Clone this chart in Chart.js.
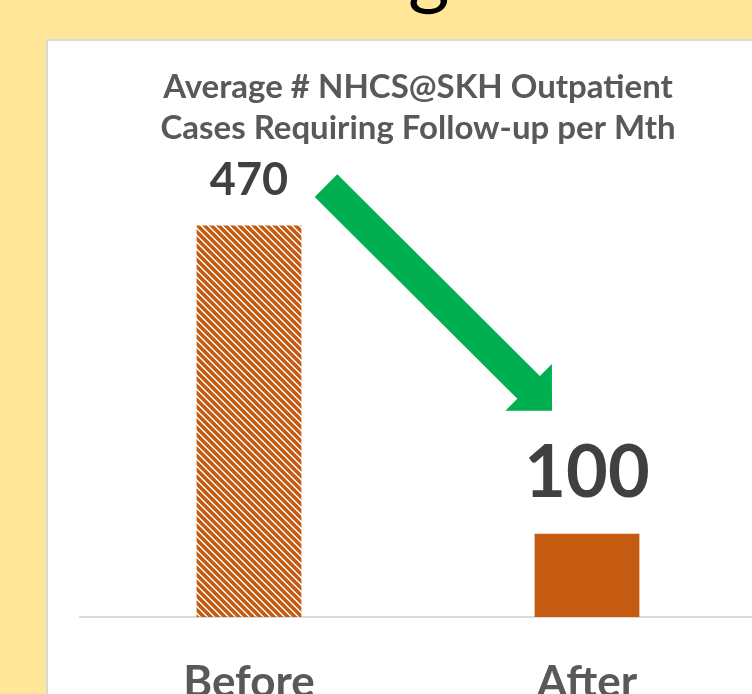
<!DOCTYPE html>
<html>
<head>
<meta charset="utf-8">
<script src="https://cdn.jsdelivr.net/npm/chart.js@4.4.1/dist/chart.umd.min.js"></script>
<style>
  html, body { margin: 0; padding: 0; width: 752px; height: 694px; overflow: hidden; background: #FFE699; }
  .panel { position: absolute; left: 46px; top: 39px; width: 800px; height: 800px; background: #fff; border: 2px solid #d9d9d9; }
  .slide-title { position: absolute; left: 408px; top: -72px; font: 80px/80px Lato, sans-serif; color: #000; }
  .wrap { position: absolute; left: 0; top: 0; width: 800px; height: 720px; }
</style>
</head>
<body>
<div class="slide-title">g</div>
<div class="panel"></div>
<div class="wrap"><canvas id="chart"></canvas></div>
<script>
const categories = ['Before', 'After']
const values     = [470, 100]
const titleLines = ['Average # NHCS@SKH Outpatient', 'Cases Requiring Follow-up per Mth']

function hatch(color) {
  const c = document.createElement('canvas')
  c.width = 7; c.height = 7
  const g = c.getContext('2d')
  g.strokeStyle = color
  g.lineWidth = 3.6
  g.beginPath()
  g.moveTo(-1, -1); g.lineTo(8, 8)
  g.moveTo(-1, 6);  g.lineTo(1, 8)
  g.moveTo(6, -1);  g.lineTo(8, 1)
  g.stroke()
  return g.createPattern(c, 'repeat')
}

// numbers above the bars, each with its own size
const valueLabels = {
  id: 'valueLabels',
  afterDatasetsDraw(chart, args, opts) {
    const { ctx } = chart
    const meta = chart.getDatasetMeta(0)
    ctx.save()
    ctx.fillStyle = opts.color
    ctx.textAlign = 'center'
    ctx.textBaseline = 'alphabetic'
    meta.data.forEach((bar, i) => {
      ctx.font = `bold ${opts.sizes[i]}px Lato`
      ctx.fillText(String(values[i]), bar.x, bar.y - opts.gaps[i])
    })
    ctx.restore()
  }
}

// green arrow from the Before bar down to the After label
const dropArrow = {
  id: 'dropArrow',
  afterDatasetsDraw(chart, args, opts) {
    const { ctx } = chart
    const bars = chart.getDatasetMeta(0).data
    const x0 = bars[0].x + 77, y0 = bars[0].y - 40
    const x1 = bars[1].x - 35, y1 = bars[1].y - 123
    const len = Math.hypot(x1 - x0, y1 - y0)
    const hl = 33, hw = 33, sw = 16
    ctx.save()
    ctx.translate(x0, y0)
    ctx.rotate(Math.atan2(y1 - y0, x1 - x0))
    ctx.fillStyle = opts.color
    ctx.beginPath()
    ctx.moveTo(0, -sw)
    ctx.lineTo(len - hl, -sw)
    ctx.lineTo(len - hl, -hw)
    ctx.lineTo(len, 0)
    ctx.lineTo(len - hl, hw)
    ctx.lineTo(len - hl, sw)
    ctx.lineTo(0, sw)
    ctx.closePath()
    ctx.fill()
    ctx.restore()
  }
}

const ctx = document.getElementById('chart').getContext('2d')

new Chart(ctx, {
  type: 'bar',
  data: {
    labels: categories,
    datasets: [{
      data:            values,
      backgroundColor: [hatch('#C55A11'), '#C55A11'],
      borderWidth:     0,
      barPercentage:   0.31,
      categoryPercentage: 1,
    }],
  },
  options: {
    responsive: true, maintainAspectRatio: false,
    animation: false,
    layout: { padding: { left: 80, right: 44, top: 0, bottom: 0 } },
    plugins: {
      legend:  { display: false },
      tooltip: { enabled: false },
      title: {
        display: true,
        text: titleLines,
        color: '#595959',
        font: { family: 'Lato', size: 33, weight: 'bold', lineHeight: 1.242 },
        padding: { top: 67, bottom: 10 },
      },
      valueLabels: { color: '#404040', sizes: [45, 72], gaps: [31, 37] },
      dropArrow:   { color: '#00B050' },
    },
    scales: {
      x: {
        grid:   { display: false },
        border: { color: '#d9d9d9', width: 2 },
        ticks:  { color: '#595959', font: { family: 'Lato', size: 44, weight: 'bold' }, padding: 31 },
        afterFit(scale) { scale.height = 103 },
      },
      y: {
        display: false,
        min: 0,
        max: 550,
      },
    },
  },
  plugins: [valueLabels, dropArrow],
})
</script>
</body>
</html>
